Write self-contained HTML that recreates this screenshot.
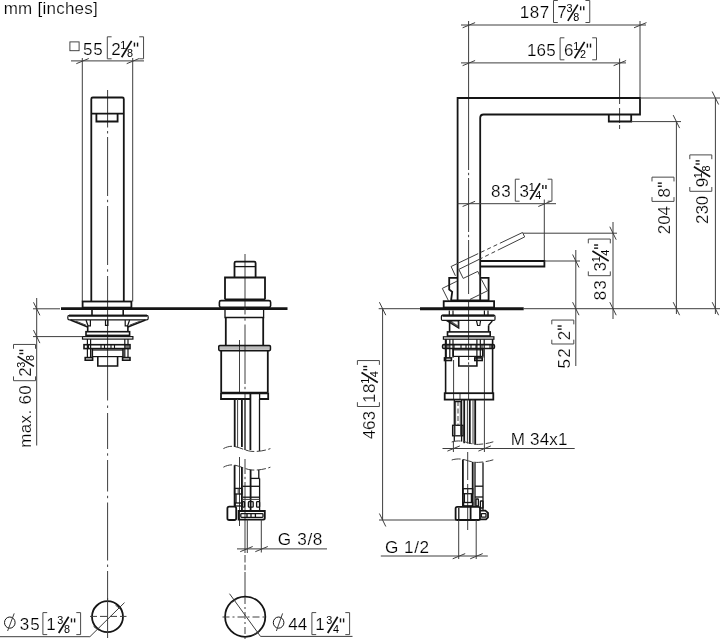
<!DOCTYPE html>
<html><head><meta charset="utf-8"><title>mm [inches]</title>
<style>
html,body{margin:0;padding:0;background:#fff;}
body{width:720px;height:640px;overflow:hidden;font-family:"Liberation Sans",sans-serif;}
svg{display:block;will-change:transform;}
svg text{font-family:"Liberation Sans",sans-serif;fill:#000;stroke:#fff;stroke-width:0.2px;}
svg text.s{stroke:none;}
</style></head><body>
<svg width="720" height="640" viewBox="0 0 720 640" fill="none" stroke="#151515" stroke-linecap="butt" stroke-linejoin="miter">
<rect x="0" y="0" width="720" height="640" fill="#fff" stroke="none"/>
<g>
<text x="3.7" y="13.7" font-size="17" letter-spacing="0.245" >mm [inches]</text>
<g>
<text x="82.95" y="54.6" font-size="17.0" letter-spacing="0.950" >55</text>
<path d="M111.6,36.8 H107.3 V58.8 H111.6" stroke-width="1.0" stroke="#4a4a4a"/>
<text x="111.15" y="54.6" font-size="17.0" letter-spacing="0.000" >2</text>
<text x="120.25" y="48.6" font-size="10.8" text-anchor="start" class="s">1</text>
<line x1="121.65" y1="57.2" x2="131.65" y2="40.9" stroke-width="1.7" stroke="#111"/>
<text x="126.95" y="57" font-size="10.8" text-anchor="start" class="s">8</text>
<line x1="134.45" y1="42.6" x2="134.45" y2="46.6" stroke-width="1.4" />
<line x1="137.55" y1="42.6" x2="137.55" y2="46.6" stroke-width="1.4" />
<path d="M139.25,36.8 H143.55 V58.8 H139.25" stroke-width="1.0" stroke="#4a4a4a"/>
</g>
<g>
<text x="19.8" y="630.4" font-size="17.0" letter-spacing="0.900" >35</text>
<path d="M47.2,612.6 H42.9 V634.6 H47.2" stroke-width="1.0" stroke="#4a4a4a"/>
<text x="46.35" y="630.4" font-size="17.0" letter-spacing="0.000" >1</text>
<text x="57.3" y="624.4" font-size="10.8" text-anchor="start" class="s">3</text>
<line x1="58.7" y1="633" x2="68.7" y2="616.7" stroke-width="1.7" stroke="#111"/>
<text x="64" y="632.8" font-size="10.8" text-anchor="start" class="s">8</text>
<line x1="71.5" y1="618.4" x2="71.5" y2="622.4" stroke-width="1.4" />
<line x1="74.6" y1="618.4" x2="74.6" y2="622.4" stroke-width="1.4" />
<path d="M76.3,612.6 H80.6 V634.6 H76.3" stroke-width="1.0" stroke="#4a4a4a"/>
</g>
<g>
<text x="288.15" y="630.4" font-size="17.0" letter-spacing="0.100" >44</text>
<path d="M316.2,612.6 H311.9 V634.6 H316.2" stroke-width="1.0" stroke="#4a4a4a"/>
<text x="315.35" y="630.4" font-size="17.0" letter-spacing="0.000" >1</text>
<text x="326.3" y="624.4" font-size="10.8" text-anchor="start" class="s">3</text>
<line x1="327.7" y1="633" x2="337.7" y2="616.7" stroke-width="1.7" stroke="#111"/>
<text x="333" y="632.8" font-size="10.8" text-anchor="start" class="s">4</text>
<line x1="340.5" y1="618.4" x2="340.5" y2="622.4" stroke-width="1.4" />
<line x1="343.6" y1="618.4" x2="343.6" y2="622.4" stroke-width="1.4" />
<path d="M345.3,612.6 H349.6 V634.6 H345.3" stroke-width="1.0" stroke="#4a4a4a"/>
</g>
<g>
<text x="519.85" y="18.3" font-size="17.0" letter-spacing="0.475" >187</text>
<path d="M557.8,0.5 H553.5 V22.5 H557.8" stroke-width="1.0" stroke="#4a4a4a"/>
<text x="557.35" y="18.3" font-size="17.0" letter-spacing="0.000" >7</text>
<text x="566.45" y="12.3" font-size="10.8" text-anchor="start" class="s">3</text>
<line x1="567.85" y1="20.9" x2="577.85" y2="4.6" stroke-width="1.7" stroke="#111"/>
<text x="573.15" y="20.7" font-size="10.8" text-anchor="start" class="s">8</text>
<line x1="580.65" y1="6.3" x2="580.65" y2="10.3" stroke-width="1.4" />
<line x1="583.75" y1="6.3" x2="583.75" y2="10.3" stroke-width="1.4" />
<path d="M585.45,0.5 H589.75 V22.5 H585.45" stroke-width="1.0" stroke="#4a4a4a"/>
</g>
<g>
<text x="527.05" y="55.6" font-size="17.0" letter-spacing="0.100" >165</text>
<path d="M564.4,37.8 H560.1 V59.8 H564.4" stroke-width="1.0" stroke="#4a4a4a"/>
<text x="563.95" y="55.6" font-size="17.0" letter-spacing="0.000" >6</text>
<text x="573.2" y="49.6" font-size="10.8" text-anchor="start" class="s">1</text>
<line x1="574.6" y1="58.2" x2="584.6" y2="41.9" stroke-width="1.7" stroke="#111"/>
<text x="579.9" y="58" font-size="10.8" text-anchor="start" class="s">2</text>
<line x1="587.4" y1="43.6" x2="587.4" y2="47.6" stroke-width="1.4" />
<line x1="590.5" y1="43.6" x2="590.5" y2="47.6" stroke-width="1.4" />
<path d="M592.2,37.8 H596.5 V59.8 H592.2" stroke-width="1.0" stroke="#4a4a4a"/>
</g>
<g>
<text x="491" y="197" font-size="17.0" letter-spacing="0.900" >83</text>
<path d="M519.6,179.2 H515.3 V201.2 H519.6" stroke-width="1.0" stroke="#4a4a4a"/>
<text x="519.4" y="197" font-size="17.0" letter-spacing="0.000" >3</text>
<text x="528.65" y="191" font-size="10.8" text-anchor="start" class="s">1</text>
<line x1="530.05" y1="199.6" x2="540.05" y2="183.3" stroke-width="1.7" stroke="#111"/>
<text x="535.35" y="199.4" font-size="10.8" text-anchor="start" class="s">4</text>
<line x1="542.85" y1="185" x2="542.85" y2="189" stroke-width="1.4" />
<line x1="545.95" y1="185" x2="545.95" y2="189" stroke-width="1.4" />
<path d="M547.65,179.2 H551.95 V201.2 H547.65" stroke-width="1.0" stroke="#4a4a4a"/>
</g>
<g transform="translate(31.3,446.6) rotate(-90)">
<text x="-1.1" y="0" font-size="17.0" letter-spacing="0.333" >max. 60</text>
<path d="M70.2,-17.8 H65.9 V4.2 H70.2" stroke-width="1.0" stroke="#4a4a4a"/>
<text x="69.75" y="0" font-size="17.0" letter-spacing="0.000" >2</text>
<text x="78.85" y="-6" font-size="10.8" text-anchor="start" class="s">3</text>
<line x1="80.25" y1="2.6" x2="90.25" y2="-13.7" stroke-width="1.7" stroke="#111"/>
<text x="85.55" y="2.4" font-size="10.8" text-anchor="start" class="s">8</text>
<line x1="93.05" y1="-12" x2="93.05" y2="-8" stroke-width="1.4" />
<line x1="96.15" y1="-12" x2="96.15" y2="-8" stroke-width="1.4" />
<path d="M97.85,-17.8 H102.15 V4.2 H97.85" stroke-width="1.0" stroke="#4a4a4a"/>
</g>
<g transform="translate(375.2,439) rotate(-90)">
<text x="-0.35" y="0" font-size="17.0" letter-spacing="0.000" >463</text>
<path d="M36.8,-17.8 H32.5 V4.2 H36.8" stroke-width="1.0" stroke="#4a4a4a"/>
<text x="35.95" y="0" font-size="17.0" letter-spacing="0.500" >18</text>
<text x="55.15" y="-6" font-size="10.8" text-anchor="start" class="s">1</text>
<line x1="56.55" y1="2.6" x2="66.55" y2="-13.7" stroke-width="1.7" stroke="#111"/>
<text x="61.85" y="2.4" font-size="10.8" text-anchor="start" class="s">4</text>
<line x1="69.35" y1="-12" x2="69.35" y2="-8" stroke-width="1.4" />
<line x1="72.45" y1="-12" x2="72.45" y2="-8" stroke-width="1.4" />
<path d="M74.15,-17.8 H78.45 V4.2 H74.15" stroke-width="1.0" stroke="#4a4a4a"/>
</g>
<g transform="translate(606.1,299.5) rotate(-90)">
<text x="-0.7" y="0" font-size="17.0" letter-spacing="1.100" >83</text>
<path d="M28.1,-17.8 H23.8 V4.2 H28.1" stroke-width="1.0" stroke="#4a4a4a"/>
<text x="27.9" y="0" font-size="17.0" letter-spacing="0.000" >3</text>
<text x="37.15" y="-6" font-size="10.8" text-anchor="start" class="s">1</text>
<line x1="38.55" y1="2.6" x2="48.55" y2="-13.7" stroke-width="1.7" stroke="#111"/>
<text x="43.85" y="2.4" font-size="10.8" text-anchor="start" class="s">4</text>
<line x1="51.35" y1="-12" x2="51.35" y2="-8" stroke-width="1.4" />
<line x1="54.45" y1="-12" x2="54.45" y2="-8" stroke-width="1.4" />
<path d="M56.15,-17.8 H60.45 V4.2 H56.15" stroke-width="1.0" stroke="#4a4a4a"/>
</g>
<g transform="translate(569.6,367.9) rotate(-90)">
<text x="-0.65" y="0" font-size="17.0" letter-spacing="1.300" >52</text>
<path d="M28.2,-17.8 H23.9 V4.2 H28.2" stroke-width="1.0" stroke="#4a4a4a"/>
<text x="27.75" y="0" font-size="17.0" letter-spacing="0.000" >2</text>
<line x1="38.75" y1="-12" x2="38.75" y2="-8" stroke-width="1.4" />
<line x1="41.85" y1="-12" x2="41.85" y2="-8" stroke-width="1.4" />
<path d="M43.55,-17.8 H47.85 V4.2 H43.55" stroke-width="1.0" stroke="#4a4a4a"/>
</g>
<g transform="translate(669.8,233.3) rotate(-90)">
<text x="-0.85" y="0" font-size="17.0" letter-spacing="-0.175" >204</text>
<path d="M36.2,-17.8 H31.9 V4.2 H36.2" stroke-width="1.0" stroke="#4a4a4a"/>
<text x="35.9" y="0" font-size="17.0" letter-spacing="0.000" >8</text>
<line x1="47.05" y1="-12" x2="47.05" y2="-8" stroke-width="1.4" />
<line x1="50.15" y1="-12" x2="50.15" y2="-8" stroke-width="1.4" />
<path d="M51.85,-17.8 H56.15 V4.2 H51.85" stroke-width="1.0" stroke="#4a4a4a"/>
</g>
<g transform="translate(707.6,223.1) rotate(-90)">
<text x="-0.85" y="0" font-size="17.0" letter-spacing="-0.125" >230</text>
<path d="M36.1,-17.8 H31.8 V4.2 H36.1" stroke-width="1.0" stroke="#4a4a4a"/>
<text x="35.75" y="0" font-size="17.0" letter-spacing="0.000" >9</text>
<text x="44.9" y="-6" font-size="10.8" text-anchor="start" class="s">1</text>
<line x1="46.3" y1="2.6" x2="56.3" y2="-13.7" stroke-width="1.7" stroke="#111"/>
<text x="51.6" y="2.4" font-size="10.8" text-anchor="start" class="s">8</text>
<line x1="59.1" y1="-12" x2="59.1" y2="-8" stroke-width="1.4" />
<line x1="62.2" y1="-12" x2="62.2" y2="-8" stroke-width="1.4" />
<path d="M63.9,-17.8 H68.2 V4.2 H63.9" stroke-width="1.0" stroke="#4a4a4a"/>
</g>
<text x="277.84" y="545.4" font-size="17.2" letter-spacing="0.620" >G 3/8</text>
<text x="384.94" y="553" font-size="17.2" letter-spacing="0.508" >G 1/2</text>
<text x="510.65" y="444.8" font-size="17.0" letter-spacing="0.220" >M 34x1</text>
</g>
<line x1="71" y1="60.9" x2="144" y2="60.9" stroke-width="1.0"  stroke="#3e3e3e"/>
<line x1="76.3" y1="63.7" x2="88.8" y2="58.5" stroke-width="1.0"  stroke="#3e3e3e"/>
<line x1="126.7" y1="63.7" x2="139.2" y2="58.5" stroke-width="1.0"  stroke="#3e3e3e"/>
<line x1="82.3" y1="58" x2="82.3" y2="301.5" stroke-width="1.0"  stroke="#3e3e3e"/>
<line x1="132.7" y1="58" x2="132.7" y2="301.5" stroke-width="1.0"  stroke="#3e3e3e"/>
<line x1="107.6" y1="90" x2="107.6" y2="127.5" stroke-width="1.0"  stroke="#3e3e3e"/>
<line x1="107.6" y1="137" x2="107.6" y2="196" stroke-width="1.0"  stroke="#3e3e3e"/>
<line x1="107.6" y1="206" x2="107.6" y2="265" stroke-width="1.0"  stroke="#3e3e3e"/>
<line x1="107.6" y1="276" x2="107.6" y2="400.5" stroke-width="1.0"  stroke="#3e3e3e"/>
<line x1="107.6" y1="413" x2="107.6" y2="449" stroke-width="1.0"  stroke="#3e3e3e"/>
<line x1="107.6" y1="460" x2="107.6" y2="491.5" stroke-width="1.0"  stroke="#3e3e3e"/>
<line x1="107.6" y1="502.5" x2="107.6" y2="560.5" stroke-width="1.0"  stroke="#3e3e3e"/>
<line x1="107.6" y1="571" x2="107.6" y2="600" stroke-width="1.0"  stroke="#3e3e3e"/>
<line x1="107.6" y1="131.05" x2="107.6" y2="133.45" stroke-width="1.0"  stroke="#3e3e3e"/>
<line x1="107.6" y1="199.8" x2="107.6" y2="202.2" stroke-width="1.0"  stroke="#3e3e3e"/>
<line x1="107.6" y1="269.3" x2="107.6" y2="271.7" stroke-width="1.0"  stroke="#3e3e3e"/>
<line x1="107.6" y1="405.55" x2="107.6" y2="407.95" stroke-width="1.0"  stroke="#3e3e3e"/>
<line x1="107.6" y1="453.3" x2="107.6" y2="455.7" stroke-width="1.0"  stroke="#3e3e3e"/>
<line x1="107.6" y1="495.8" x2="107.6" y2="498.2" stroke-width="1.0"  stroke="#3e3e3e"/>
<line x1="107.6" y1="564.55" x2="107.6" y2="566.95" stroke-width="1.0"  stroke="#3e3e3e"/>
<path d="M91.3,301.5 V99 Q91.3,97.5 92.8,97.5 H122.3 Q123.8,97.5 123.8,99 V301.5" stroke-width="1.8" />
<line x1="91.3" y1="113.7" x2="123.8" y2="113.7" stroke-width="1.8" />
<path d="M96.4,113.7 V121.5 H117.6 V113.7" stroke-width="1.8" />
<rect x="82.6" y="301.5" width="48.8" height="6.1" rx="0" stroke-width="1.8" />
<line x1="61" y1="308.6" x2="287.5" y2="308.6" stroke-width="2.9" />
<line x1="92" y1="310" x2="92" y2="315.4" stroke-width="1.6" />
<line x1="123.2" y1="310" x2="123.2" y2="315.4" stroke-width="1.6" />
<rect x="67.8" y="315.4" width="80.4" height="4.5" rx="1.6" stroke-width="1.2" />
<line x1="69" y1="315.7" x2="147" y2="315.7" stroke-width="1.9" />
<path d="M70.5,320 L87.7,327" stroke-width="1.6" />
<path d="M145.5,320 L127.9,327" stroke-width="1.6" />
<path d="M76,321.2 L86,325.2" stroke-width="1.0"  stroke="#3e3e3e"/>
<path d="M140,321.2 L129.6,325.2" stroke-width="1.0"  stroke="#3e3e3e"/>
<path d="M86.0,320 L88,325.8 H90.4 V320" stroke-width="1.2" />
<path d="M129.6,320 L127.6,325.8 H125.2 V320" stroke-width="1.2" />
<path d="M105.5,320 V325.4 H107.9 V320" stroke-width="1.2" />
<path d="M87.7,325.8 V331.7 M127.9,325.8 V331.7" stroke-width="1.6" />
<rect x="86" y="331.7" width="43.6" height="3.7" rx="0" stroke-width="1.6" />
<rect x="82.5" y="336.6" width="50.4" height="2.5" rx="0" stroke-width="1.2" />
<line x1="87.4" y1="339.1" x2="87.4" y2="357.6" stroke-width="1.2" />
<line x1="90.6" y1="339.1" x2="90.6" y2="357.6" stroke-width="1.2" />
<line x1="124.8" y1="339.1" x2="124.8" y2="357.6" stroke-width="1.2" />
<line x1="128" y1="339.1" x2="128" y2="357.6" stroke-width="1.2" />
<rect x="84" y="344.7" width="46" height="3.9" rx="0" stroke-width="1.6" />
<line x1="88.5" y1="344.7" x2="88.5" y2="348.6" stroke-width="1.1" />
<line x1="101" y1="344.7" x2="101" y2="348.6" stroke-width="1.1" />
<line x1="104.5" y1="344.7" x2="104.5" y2="348.6" stroke-width="1.1" />
<line x1="111" y1="344.7" x2="111" y2="348.6" stroke-width="1.1" />
<line x1="114.5" y1="344.7" x2="114.5" y2="348.6" stroke-width="1.1" />
<line x1="126" y1="344.7" x2="126" y2="348.6" stroke-width="1.1" />
<path d="M92.3,348.6 V357 M123.0,348.6 V357" stroke-width="1.6" />
<line x1="92.3" y1="350" x2="123" y2="350" stroke-width="1.2" />
<line x1="92.3" y1="356.6" x2="123" y2="356.6" stroke-width="1.2" />
<rect x="85.2" y="357.6" width="7.4" height="2.6" rx="0" stroke-width="1.6" />
<rect x="122.6" y="357.6" width="7.4" height="2.6" rx="0" stroke-width="1.6" />
<path d="M97.8,356.6 V366 H117.6 V356.6" stroke-width="1.6" />
<line x1="36.7" y1="298" x2="36.7" y2="445.5" stroke-width="1.0"  stroke="#3e3e3e"/>
<line x1="33.5" y1="302.3" x2="39.9" y2="315.3" stroke-width="1.0"  stroke="#3e3e3e"/>
<line x1="33.5" y1="330.1" x2="39.9" y2="343.1" stroke-width="1.0"  stroke="#3e3e3e"/>
<line x1="33" y1="308.8" x2="60" y2="308.8" stroke-width="1.0"  stroke="#3e3e3e"/>
<line x1="33" y1="336.6" x2="82.6" y2="336.6" stroke-width="1.0"  stroke="#3e3e3e"/>
<circle cx="107.5" cy="616.7" r="15.5" stroke-width="1.8"/>
<line x1="90" y1="616.4" x2="126.5" y2="616.4" stroke-width="1.0" stroke-dasharray="7 3" stroke="#3e3e3e"/>
<line x1="107.6" y1="598" x2="107.6" y2="638" stroke-width="1.0"  stroke="#3e3e3e"/>
<path d="M0,636.7 L89.9,636.7 L124.5,602.6" stroke-width="1.0"  stroke="#3e3e3e"/>
<line x1="93.6" y1="626.5" x2="98.5" y2="630.2" stroke-width="1.0"  stroke="#3e3e3e"/>
<line x1="115.5" y1="605.2" x2="120" y2="608.7" stroke-width="1.0"  stroke="#3e3e3e"/>
<line x1="245" y1="254" x2="245" y2="314.5" stroke-width="1.0"  stroke="#3e3e3e"/>
<line x1="245" y1="324.5" x2="245" y2="384" stroke-width="1.0"  stroke="#3e3e3e"/>
<line x1="245" y1="392" x2="245" y2="399" stroke-width="1.0"  stroke="#3e3e3e"/>
<line x1="245" y1="318.3" x2="245" y2="320.7" stroke-width="1.0"  stroke="#3e3e3e"/>
<line x1="245" y1="386.8" x2="245" y2="389.2" stroke-width="1.0"  stroke="#3e3e3e"/>
<line x1="245" y1="459" x2="245" y2="474" stroke-width="1.0"  stroke="#3e3e3e"/>
<line x1="245" y1="482" x2="245" y2="553" stroke-width="1.0"  stroke="#3e3e3e"/>
<line x1="245" y1="476.8" x2="245" y2="479.2" stroke-width="1.0"  stroke="#3e3e3e"/>
<line x1="245" y1="555" x2="245" y2="562.5" stroke-width="1.0"  stroke="#3e3e3e"/>
<line x1="245" y1="564.7" x2="245" y2="570.3" stroke-width="1.0"  stroke="#3e3e3e"/>
<line x1="245" y1="572" x2="245" y2="596.5" stroke-width="1.0"  stroke="#3e3e3e"/>
<line x1="239.5" y1="340" x2="239.5" y2="393.4" stroke-width="1.0"  stroke="#3e3e3e"/>
<line x1="239.5" y1="457" x2="239.5" y2="526" stroke-width="1.0"  stroke="#3e3e3e"/>
<path d="M234.5,277.5 V263 Q234.5,261.6 235.9,261.6 H254.2 Q255.6,261.6 255.6,263 V277.5" stroke-width="1.8" />
<line x1="234.5" y1="266.6" x2="255.6" y2="266.6" stroke-width="1.3" />
<path d="M225,299.4 V277.5 H265 V299.4" stroke-width="1.8" />
<line x1="225" y1="299.4" x2="265" y2="299.4" stroke-width="1.8" />
<rect x="219.4" y="300.6" width="51.2" height="6.8" rx="1.6" stroke-width="1.6" />
<path d="M225,310 V317.5 H263.6 V310" stroke-width="1.3" />
<line x1="225.8" y1="317.5" x2="225.8" y2="345.5" stroke-width="1.8" />
<line x1="263.2" y1="317.5" x2="263.2" y2="345.5" stroke-width="1.8" />
<rect x="218.8" y="345.6" width="51.6" height="5" rx="1" stroke-width="1.6" />
<line x1="220" y1="348" x2="269.5" y2="348" stroke-width="0.7"  stroke="#3e3e3e"/>
<line x1="221.2" y1="350.6" x2="221.2" y2="392.6" stroke-width="1.8" />
<line x1="267.8" y1="350.6" x2="267.8" y2="392.6" stroke-width="1.8" />
<line x1="221.2" y1="392.6" x2="267.8" y2="392.6" stroke-width="1.8" />
<path d="M250.4,393.4 H221 V399 H250.4 M259.6,399 H268.2 V393.4 H250.4 V399" stroke-width="1.8" />
<line x1="259.6" y1="393.4" x2="259.6" y2="399" stroke-width="1.3" />
<line x1="234.7" y1="399" x2="234.7" y2="447" stroke-width="1.8" />
<line x1="237.6" y1="399" x2="237.6" y2="447" stroke-width="1.0"  stroke="#3e3e3e"/>
<line x1="241.9" y1="399" x2="241.9" y2="447" stroke-width="1.8" />
<line x1="245" y1="399" x2="245" y2="450" stroke-width="1.3" />
<line x1="250.4" y1="399" x2="250.4" y2="450" stroke-width="1.8" />
<line x1="259.5" y1="399" x2="259.5" y2="451" stroke-width="1.3" />
<path d="M223.4,448.6 C227,446.6 231,445.8 235,446.6 C241,447.8 246,451 252,451.4 C258,451.8 265,450.6 270.4,448.6" stroke-width="1.0" stroke-dasharray="9 2.5" stroke="#3e3e3e"/>
<path d="M223.4,467.2 C227,465.2 231,464.4 235,465.2 C241,466.4 246,469.6 252,470 C258,470.4 265,469.2 270.4,467.2" stroke-width="1.0" stroke-dasharray="9 2.5" stroke="#3e3e3e"/>
<line x1="234.6" y1="465.2" x2="234.6" y2="506.5" stroke-width="1.8" />
<line x1="241.9" y1="467" x2="241.9" y2="511" stroke-width="1.8" />
<line x1="242.6" y1="467" x2="242.6" y2="511" stroke-width="1.0"  stroke="#3e3e3e"/>
<line x1="250.6" y1="469.8" x2="250.6" y2="511" stroke-width="1.8" />
<line x1="259.6" y1="478.4" x2="259.6" y2="511" stroke-width="1.3" />
<line x1="258.8" y1="470" x2="258.8" y2="478.4" stroke-width="1.3" />
<line x1="250.6" y1="478.4" x2="259.6" y2="478.4" stroke-width="1.3" />
<rect x="234.6" y="488.4" width="7.3" height="5.6" rx="0" stroke-width="1.3" />
<line x1="238.2" y1="488.4" x2="238.2" y2="494" stroke-width="1.0"  stroke="#3e3e3e"/>
<rect x="235.2" y="503" width="6.7" height="3" rx="0" stroke-width="1.3" />
<line x1="236" y1="494" x2="236" y2="503" stroke-width="1.3" />
<line x1="242.6" y1="486.3" x2="259.6" y2="486.3" stroke-width="1.3" />
<line x1="242.6" y1="497.2" x2="259.6" y2="497.2" stroke-width="1.3" />
<line x1="242.6" y1="499.4" x2="259.6" y2="499.4" stroke-width="1.0"  stroke="#3e3e3e"/>
<rect x="242.6" y="501.6" width="2" height="5.6" rx="0.8" stroke-width="1.3" />
<rect x="248.4" y="501.6" width="4.8" height="5.6" rx="0.8" stroke-width="1.3" />
<rect x="256.6" y="501.6" width="3" height="5.6" rx="0.8" stroke-width="1.3" />
<rect x="227.4" y="506.6" width="8.8" height="13.4" rx="1.8" stroke-width="1.8" />
<path d="M238.6,511 H264.8 V518 Q264.8,519.6 263.2,519.6 H238.6 Z" stroke-width="1.8" />
<rect x="240.8" y="513.6" width="22.2" height="3.8" rx="0.8" stroke-width="1.3" />
<line x1="247" y1="513.6" x2="247" y2="517.4" stroke-width="1.3" />
<line x1="251" y1="513.6" x2="251" y2="517.4" stroke-width="1.3" />
<line x1="255.4" y1="513.6" x2="255.4" y2="517.4" stroke-width="1.3" />
<line x1="247.3" y1="519.6" x2="247.3" y2="553" stroke-width="1.0"  stroke="#3e3e3e"/>
<line x1="261.3" y1="519.6" x2="261.3" y2="552.5" stroke-width="1.0"  stroke="#3e3e3e"/>
<line x1="237" y1="548.9" x2="327" y2="548.9" stroke-width="1.0"  stroke="#3e3e3e"/>
<line x1="240.2" y1="551.7" x2="252.7" y2="546.5" stroke-width="1.0"  stroke="#3e3e3e"/>
<line x1="255.3" y1="551.7" x2="267.8" y2="546.5" stroke-width="1.0"  stroke="#3e3e3e"/>
<circle cx="245.2" cy="616.7" r="20.1" stroke-width="1.8"/>
<line x1="222.5" y1="617" x2="267.5" y2="617" stroke-width="1.0" stroke-dasharray="7 3 2 3" stroke="#3e3e3e"/>
<line x1="245" y1="597" x2="245" y2="640" stroke-width="1.0" stroke-dasharray="7 3 2 3" stroke="#3e3e3e"/>
<path d="M229.5,593.7 L260.5,636.4 L352.5,636.4" stroke-width="1.0"  stroke="#3e3e3e"/>
<line x1="230.5" y1="603.2" x2="236" y2="599.6" stroke-width="1.0"  stroke="#3e3e3e"/>
<line x1="254" y1="634.6" x2="259.6" y2="631" stroke-width="1.0"  stroke="#3e3e3e"/>
<line x1="461" y1="25" x2="646" y2="25" stroke-width="1.0"  stroke="#3e3e3e"/>
<line x1="462.6" y1="27.8" x2="475.1" y2="22.6" stroke-width="1.0"  stroke="#3e3e3e"/>
<line x1="634" y1="27.8" x2="646.5" y2="22.6" stroke-width="1.0"  stroke="#3e3e3e"/>
<line x1="461" y1="62.9" x2="626" y2="62.9" stroke-width="1.0"  stroke="#3e3e3e"/>
<line x1="462.6" y1="65.7" x2="475.1" y2="60.5" stroke-width="1.0"  stroke="#3e3e3e"/>
<line x1="613.6" y1="65.7" x2="626.1" y2="60.5" stroke-width="1.0"  stroke="#3e3e3e"/>
<line x1="468.6" y1="21" x2="468.6" y2="98" stroke-width="1.0"  stroke="#3e3e3e"/>
<line x1="640" y1="21" x2="640" y2="98" stroke-width="1.0"  stroke="#3e3e3e"/>
<line x1="619.6" y1="58.5" x2="619.6" y2="104" stroke-width="1.0"  stroke="#3e3e3e"/>
<line x1="619.6" y1="108" x2="619.6" y2="123" stroke-width="1.0"  stroke="#3e3e3e"/>
<line x1="619.6" y1="125" x2="619.6" y2="129" stroke-width="1.0"  stroke="#3e3e3e"/>
<line x1="468.6" y1="98" x2="468.6" y2="170" stroke-width="1.0"  stroke="#3e3e3e"/>
<line x1="468.6" y1="178" x2="468.6" y2="232" stroke-width="1.0"  stroke="#3e3e3e"/>
<line x1="468.6" y1="240" x2="468.6" y2="294" stroke-width="1.0"  stroke="#3e3e3e"/>
<line x1="468.6" y1="300" x2="468.6" y2="360" stroke-width="1.0"  stroke="#3e3e3e"/>
<line x1="468.6" y1="367" x2="468.6" y2="400" stroke-width="1.0"  stroke="#3e3e3e"/>
<line x1="468.6" y1="172.8" x2="468.6" y2="175.2" stroke-width="1.0"  stroke="#3e3e3e"/>
<line x1="468.6" y1="234.8" x2="468.6" y2="237.2" stroke-width="1.0"  stroke="#3e3e3e"/>
<line x1="468.6" y1="362.3" x2="468.6" y2="364.7" stroke-width="1.0"  stroke="#3e3e3e"/>
<path d="M457.6,301 V98 H640 V114.5 H483.6 Q480.2,114.5 480.2,118 V301" stroke-width="1.8" />
<path d="M608.8,114.5 V121.5 H631.2 V114.5" stroke-width="1.8" />
<line x1="640" y1="98" x2="720" y2="98" stroke-width="1.0"  stroke="#3e3e3e"/>
<line x1="631.2" y1="121.6" x2="681" y2="121.6" stroke-width="1.0"  stroke="#3e3e3e"/>
<line x1="676.4" y1="121.6" x2="676.4" y2="314" stroke-width="1.0"  stroke="#3e3e3e"/>
<line x1="673.2" y1="115.1" x2="679.6" y2="128.1" stroke-width="1.0"  stroke="#3e3e3e"/>
<line x1="673.2" y1="302.2" x2="679.6" y2="315.2" stroke-width="1.0"  stroke="#3e3e3e"/>
<line x1="715.4" y1="98" x2="715.4" y2="314" stroke-width="1.0"  stroke="#3e3e3e"/>
<line x1="712.2" y1="91.5" x2="718.6" y2="104.5" stroke-width="1.0"  stroke="#3e3e3e"/>
<line x1="712.2" y1="302.2" x2="718.6" y2="315.2" stroke-width="1.0"  stroke="#3e3e3e"/>
<line x1="457.6" y1="203.7" x2="556" y2="203.7" stroke-width="1.0"  stroke="#3e3e3e"/>
<line x1="462.6" y1="206.5" x2="475.1" y2="201.3" stroke-width="1.0"  stroke="#3e3e3e"/>
<line x1="538.3" y1="206.5" x2="550.8" y2="201.3" stroke-width="1.0"  stroke="#3e3e3e"/>
<line x1="544.3" y1="199.5" x2="544.3" y2="261" stroke-width="1.0"  stroke="#3e3e3e"/>
<path d="M480.2,261.0 H544.4 V266.5 H480.2" stroke-width="1.8" />
<path d="M451.1,266.5 L522.5,232.5" stroke-width="1.0" stroke-dasharray="30 3 4 3 4 3 4 3 200" stroke="#3e3e3e"/>
<path d="M522.5,232.5 L524.7,236.9" stroke-width="1.0"  stroke="#3e3e3e"/>
<path d="M524.7,236.9 L458.8,269.4" stroke-width="1.0" stroke-dasharray="30 3 4 3 4 3 200" stroke="#3e3e3e"/>
<path d="M451.1,266.5 L455.4,275.8" stroke-width="1.0"  stroke="#3e3e3e"/>
<path d="M458.8,269.4 L463.2,278.4 L477.8,271.4 L480.2,276.6" stroke-width="1.0"  stroke="#3e3e3e"/>
<path d="M456.9,281.2 L442.3,288.4 L448.4,300.6" stroke-width="1.0"  stroke="#3e3e3e"/>
<path d="M481.4,279.4 L487.5,290.8 L470,299.4" stroke-width="1.0"  stroke="#3e3e3e"/>
<path d="M457.6,277.8 H449.2 V289.6 L452.2,291.8 L451,300.8" stroke-width="1.8" />
<path d="M480.2,277.8 H488.6 V300.8 H480.2" stroke-width="1.8" />
<line x1="451" y1="300.4" x2="488.6" y2="300.4" stroke-width="1.8" />
<line x1="523" y1="233.2" x2="617" y2="233.2" stroke-width="1.0"  stroke="#3e3e3e"/>
<line x1="544.4" y1="261" x2="580" y2="261" stroke-width="1.0"  stroke="#3e3e3e"/>
<line x1="523.7" y1="308.7" x2="720" y2="308.7" stroke-width="1.0"  stroke="#3e3e3e"/>
<rect x="443.7" y="301.2" width="50.4" height="6.3" rx="0" stroke-width="1.8" />
<line x1="420" y1="308.7" x2="523.7" y2="308.7" stroke-width="2.9" />
<line x1="378.7" y1="308.7" x2="420" y2="308.7" stroke-width="1.0"  stroke="#3e3e3e"/>
<line x1="613" y1="222" x2="613" y2="319" stroke-width="1.0"  stroke="#3e3e3e"/>
<line x1="609.8" y1="226.7" x2="616.2" y2="239.7" stroke-width="1.0"  stroke="#3e3e3e"/>
<line x1="609.8" y1="302.2" x2="616.2" y2="315.2" stroke-width="1.0"  stroke="#3e3e3e"/>
<line x1="575.8" y1="250" x2="575.8" y2="366" stroke-width="1.0"  stroke="#3e3e3e"/>
<line x1="572.6" y1="254.5" x2="579" y2="267.5" stroke-width="1.0"  stroke="#3e3e3e"/>
<line x1="572.6" y1="302.2" x2="579" y2="315.2" stroke-width="1.0"  stroke="#3e3e3e"/>
<line x1="382.6" y1="308.7" x2="382.6" y2="520" stroke-width="1.0"  stroke="#3e3e3e"/>
<line x1="379.4" y1="302.2" x2="385.8" y2="315.2" stroke-width="1.0"  stroke="#3e3e3e"/>
<line x1="379.4" y1="513.5" x2="385.8" y2="526.5" stroke-width="1.0"  stroke="#3e3e3e"/>
<line x1="379" y1="520" x2="455.8" y2="520" stroke-width="1.0"  stroke="#3e3e3e"/>
<line x1="449.3" y1="310.4" x2="449.3" y2="315.2" stroke-width="1.2" />
<line x1="453" y1="310.4" x2="453" y2="315.2" stroke-width="1.2" />
<line x1="484.4" y1="310.4" x2="484.4" y2="315.2" stroke-width="1.2" />
<line x1="488" y1="310.4" x2="488" y2="315.2" stroke-width="1.2" />
<rect x="441.4" y="315.2" width="53.6" height="5.2" rx="1.2" stroke-width="1.2" />
<line x1="442.4" y1="315.8" x2="494" y2="315.8" stroke-width="2.0" />
<path d="M447.2,321 L458.8,328.2 V321 Z" fill="#555" stroke-width="1.2"/>
<path d="M452,321.6 L457.6,325.2 V321.6 Z" fill="#fff" stroke="none"/>
<path d="M492.3,321 L488.4,325.5" stroke-width="1.3" />
<path d="M476.4,320.4 L477.6,325.5 H479.8 L480.6,320.4" stroke-width="1.2" />
<path d="M449.6,320.4 V331.9 M488.6,325.5 V331.9" stroke-width="1.6" />
<rect x="447.5" y="331.9" width="42.7" height="4.1" rx="0" stroke-width="1.6" />
<rect x="443.4" y="336.8" width="50.5" height="2.4" rx="0" stroke-width="1.2" />
<line x1="446.2" y1="339.2" x2="446.2" y2="357.8" stroke-width="1.2" />
<line x1="449.8" y1="339.2" x2="449.8" y2="357.8" stroke-width="1.2" />
<line x1="453" y1="339.2" x2="453" y2="357.8" stroke-width="1.2" />
<line x1="476.9" y1="339.2" x2="476.9" y2="357.8" stroke-width="1.2" />
<line x1="480.3" y1="339.2" x2="480.3" y2="357.8" stroke-width="1.2" />
<line x1="484.2" y1="339.2" x2="484.2" y2="357.8" stroke-width="1.2" />
<rect x="442.6" y="344.6" width="51.8" height="3.9" rx="1.2" stroke-width="1.6" />
<line x1="445.2" y1="344.6" x2="445.2" y2="348.5" stroke-width="1.1" />
<line x1="448" y1="344.6" x2="448" y2="348.5" stroke-width="1.1" />
<line x1="454" y1="344.6" x2="454" y2="348.5" stroke-width="1.1" />
<line x1="461" y1="344.6" x2="461" y2="348.5" stroke-width="1.1" />
<line x1="466" y1="344.6" x2="466" y2="348.5" stroke-width="1.1" />
<line x1="471" y1="344.6" x2="471" y2="348.5" stroke-width="1.1" />
<line x1="476" y1="344.6" x2="476" y2="348.5" stroke-width="1.1" />
<line x1="482" y1="344.6" x2="482" y2="348.5" stroke-width="1.1" />
<line x1="490" y1="344.6" x2="490" y2="348.5" stroke-width="1.1" />
<line x1="491.8" y1="344.6" x2="491.8" y2="348.5" stroke-width="1.1" />
<path d="M453.2,348.5 V356.4 M482.8,348.5 V356.4" stroke-width="1.6" />
<line x1="453.2" y1="349.8" x2="482.8" y2="349.8" stroke-width="1.2" />
<line x1="453.2" y1="356.4" x2="482.8" y2="356.4" stroke-width="1.2" />
<rect x="444.5" y="357.9" width="6.9" height="2.6" rx="0" stroke-width="1.6" />
<rect x="474.8" y="357.9" width="7.4" height="2.6" rx="0" stroke-width="1.6" />
<path d="M458.8,356.4 V366 H476.9 V356.4" stroke-width="1.6" />
<line x1="445.6" y1="339.2" x2="445.6" y2="393.2" stroke-width="1.6" />
<line x1="492.6" y1="339.2" x2="492.6" y2="393.2" stroke-width="1.6" />
<line x1="453.6" y1="360" x2="453.6" y2="399.6" stroke-width="1.0"  stroke="#3e3e3e"/>
<line x1="484.4" y1="348.8" x2="484.4" y2="399.6" stroke-width="1.0"  stroke="#3e3e3e"/>
<line x1="460" y1="393.2" x2="460" y2="399.6" stroke-width="1.0"  stroke="#3e3e3e"/>
<rect x="444.7" y="393.2" width="48.6" height="6.4" rx="0" stroke-width="1.8" />
<line x1="454.3" y1="399.6" x2="454.3" y2="441" stroke-width="1.3" />
<line x1="461.6" y1="399.6" x2="461.6" y2="441.6" stroke-width="1.3" />
<line x1="455.6" y1="401" x2="455.6" y2="425" stroke-width="1.0"  stroke="#3e3e3e"/>
<line x1="460.3" y1="401" x2="460.3" y2="425" stroke-width="1.0"  stroke="#3e3e3e"/>
<line x1="458" y1="401" x2="458" y2="425" stroke-width="1.0" stroke-dasharray="5 2.5" stroke="#3e3e3e"/>
<line x1="454.3" y1="401.6" x2="461.6" y2="401.6" stroke-width="1.3" />
<rect x="452.6" y="425.3" width="10.4" height="10.5" rx="0" stroke-width="1.3" />
<line x1="455" y1="425.3" x2="455" y2="435.8" stroke-width="1.0"  stroke="#3e3e3e"/>
<line x1="460.6" y1="425.3" x2="460.6" y2="435.8" stroke-width="1.0"  stroke="#3e3e3e"/>
<line x1="464.2" y1="399.6" x2="464.2" y2="443.2" stroke-width="1.8" />
<line x1="467.4" y1="399.6" x2="467.4" y2="443.6" stroke-width="1.0"  stroke="#3e3e3e"/>
<line x1="469.8" y1="399.6" x2="469.8" y2="444" stroke-width="1.8" />
<line x1="473" y1="399.6" x2="473" y2="444.2" stroke-width="1.0"  stroke="#3e3e3e"/>
<line x1="475.2" y1="399.6" x2="475.2" y2="444.4" stroke-width="1.8" />
<line x1="484.4" y1="399.6" x2="484.4" y2="452" stroke-width="1.0"  stroke="#3e3e3e"/>
<path d="M451.7,442 C456,440.6 461,440.6 465.5,442 C470,443.4 474,444.6 478.3,444.4 C483,444.2 488,443.4 493.3,441.8" stroke-width="1.0" stroke-dasharray="9 2.5" stroke="#3e3e3e"/>
<path d="M451.7,460 C456,458.6 461,458.6 465.5,460 C470,461.4 474,462.6 478.3,462.4 C483,462.2 488,461.4 493.3,459.8" stroke-width="1.0" stroke-dasharray="9 2.5" stroke="#3e3e3e"/>
<line x1="442.5" y1="448.5" x2="574.7" y2="448.5" stroke-width="1.0"  stroke="#3e3e3e"/>
<line x1="447.4" y1="451.1" x2="459.9" y2="445.9" stroke-width="1.0"  stroke="#3e3e3e"/>
<line x1="478.4" y1="451.1" x2="490.9" y2="445.9" stroke-width="1.0"  stroke="#3e3e3e"/>
<line x1="453.4" y1="441" x2="453.4" y2="452" stroke-width="1.0"  stroke="#3e3e3e"/>
<line x1="462.9" y1="459.4" x2="462.9" y2="507" stroke-width="1.8" />
<line x1="472.7" y1="461.8" x2="472.7" y2="507" stroke-width="1.8" />
<line x1="475" y1="462.4" x2="475" y2="507" stroke-width="1.3" />
<line x1="483" y1="462.4" x2="483" y2="510.6" stroke-width="1.3" />
<line x1="467.7" y1="452" x2="467.7" y2="480" stroke-width="1.0"  stroke="#3e3e3e"/>
<line x1="467.7" y1="484" x2="467.7" y2="530" stroke-width="1.0"  stroke="#3e3e3e"/>
<rect x="462.9" y="488.7" width="9.8" height="5" rx="0" stroke-width="1.3" />
<line x1="467.7" y1="488.7" x2="467.7" y2="493.7" stroke-width="1.0"  stroke="#3e3e3e"/>
<rect x="463.6" y="502.5" width="9.1" height="3.3" rx="0" stroke-width="1.3" />
<line x1="464.4" y1="493.7" x2="464.4" y2="502.5" stroke-width="1.3" />
<line x1="471.4" y1="493.7" x2="471.4" y2="502.5" stroke-width="1.3" />
<line x1="475" y1="486.2" x2="483" y2="486.2" stroke-width="1.3" />
<line x1="475" y1="497" x2="483" y2="497" stroke-width="1.3" />
<rect x="476" y="499" width="2.4" height="7" rx="0.6" stroke-width="1.3" />
<rect x="480.4" y="501" width="2.6" height="7" rx="0.6" stroke-width="1.3" />
<rect x="455.6" y="506.9" width="24.4" height="13.1" rx="1.6" stroke-width="1.8" />
<line x1="458.8" y1="508" x2="458.8" y2="519" stroke-width="1.3" />
<line x1="470.6" y1="506.9" x2="470.6" y2="520" stroke-width="1.8" />
<path d="M480,510.6 H485.4 L488,512.8 V517.4 L486,519.4 H480" stroke-width="1.8" />
<rect x="481.4" y="513.6" width="4.6" height="3.6" rx="0.5" stroke-width="1.3" />
<line x1="458.7" y1="520" x2="458.7" y2="559" stroke-width="1.0"  stroke="#3e3e3e"/>
<line x1="476.2" y1="520" x2="476.2" y2="559" stroke-width="1.0"  stroke="#3e3e3e"/>
<line x1="380.8" y1="556" x2="487.8" y2="556" stroke-width="1.0"  stroke="#3e3e3e"/>
<line x1="452.7" y1="558.8" x2="465.2" y2="553.6" stroke-width="1.0"  stroke="#3e3e3e"/>
<line x1="470.2" y1="558.8" x2="482.7" y2="553.6" stroke-width="1.0"  stroke="#3e3e3e"/>
<rect x="69.9" y="41.9" width="9.2" height="8.8" rx="0" stroke-width="0.9" stroke="#333"/>
<ellipse cx="9.8" cy="622.6" rx="5.3" ry="5.6" stroke-width="1"/>
<line x1="7.6" y1="631" x2="14.2" y2="613.4" stroke-width="1.0"  stroke="#3e3e3e"/>
<ellipse cx="278.6" cy="622.6" rx="5.3" ry="5.6" stroke-width="1"/>
<line x1="276.4" y1="631" x2="282.6" y2="613.4" stroke-width="1.0"  stroke="#3e3e3e"/>
</svg></body></html>
